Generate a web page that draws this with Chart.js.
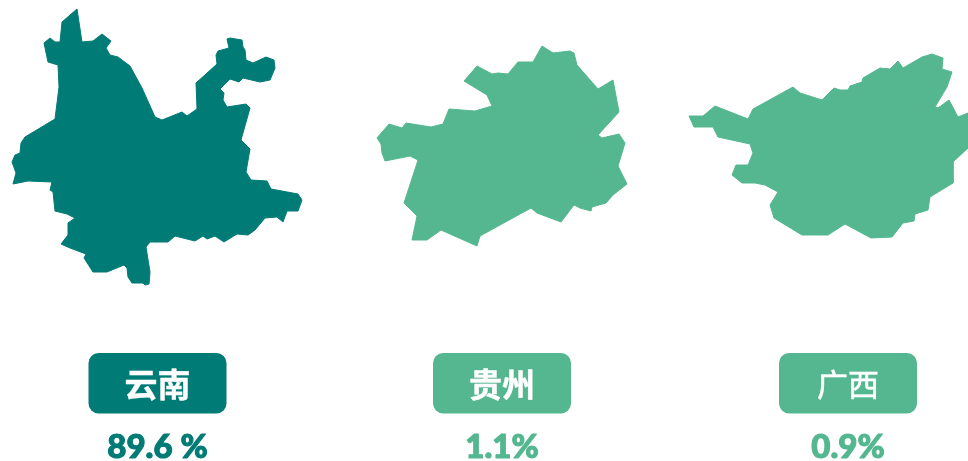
<!DOCTYPE html>
<html><head><meta charset="utf-8">
<style>html,body{margin:0;padding:0;background:#fff}#w{width:968px;height:461px}canvas{display:block}</style>
<script src="https://cdn.jsdelivr.net/npm/chart.js@4"></script></head>
<body><div id="w"><canvas id="c" width="968" height="461"></canvas></div>
<script>
const provinces = ['云南', '贵州', '广西'];
const shareLabels = ['89.6 %', '1.1%', '0.9%'];
const labelCentersX = [157.5, 502, 848];
const colorDark = '#007B75', colorLight = '#54B78F';
const provinceColors = [colorDark, colorLight, colorLight];
const provinceFonts = ['700 33px "Noto Sans CJK SC"', '700 33px "Noto Sans CJK SC"', '400 31px "Noto Sans CJK SC"'];
const provinceStrokes = [0.4, 0.4, 0.6];
const yunnanOutline = [[77,9],[82,42],[93,41],[102,34],[111,41],[106,48],[110,55],[118,57],[130,66],[142,88],[155,117],[162,120],[182,112],[187,116],[197,109],[196,83],[217,64],[216,55],[218,51],[229,48],[227,39],[230,38],[242,40],[243,47],[245,50],[246,60],[253,63],[266,57],[274,60],[275,68],[270,80],[260,82],[243,78],[239,82],[230,79],[220,89],[224,93],[223,100],[227,107],[246,104],[250,108],[241,140],[250,149],[246,172],[251,180],[267,181],[271,189],[298,194],[302,200],[298,211],[287,211],[283,222],[277,217],[265,218],[255,230],[248,235],[237,234],[224,242],[215,236],[207,239],[203,236],[195,241],[175,236],[168,242],[150,242],[146,247],[150,272],[149,284],[145,285],[143,283],[132,283],[128,277],[127,268],[124,265],[107,272],[93,272],[84,258],[86,254],[70,248],[61,244],[68,235],[68,223],[75,218],[67,214],[55,211],[53,192],[50,190],[52,182],[28,181],[13,184],[16,173],[12,162],[15,155],[20,153],[21,143],[25,137],[55,119],[59,87],[58,65],[48,62],[44,43],[50,38],[55,42],[60,42],[62,22],[77,9]];
const guizhouOutline = [[542,46],[553,53],[570,51],[574,53],[577,65],[598,89],[613,80],[619,112],[598,135],[602,138],[619,134],[625,143],[618,166],[627,184],[613,195],[606,203],[592,207],[591,211],[580,208],[574,205],[561,222],[537,213],[531,208],[480,236],[477,246],[441,230],[427,240],[412,240],[417,216],[404,203],[418,160],[410,156],[385,161],[382,153],[381,144],[377,138],[389,124],[402,128],[406,123],[431,127],[443,124],[449,109],[475,111],[492,106],[487,95],[464,81],[477,66],[492,74],[498,73],[508,74],[518,62],[533,62],[542,46]];
const guangxiOutline = [[932,54],[943,58],[942,69],[952,72],[947,87],[935,107],[938,108],[949,100],[958,117],[968,113],[968,148],[953,162],[953,183],[930,197],[928,210],[915,214],[914,221],[903,223],[892,237],[871,238],[845,224],[828,235],[802,235],[774,218],[770,205],[778,192],[765,185],[755,183],[742,183],[732,175],[736,165],[748,165],[753,153],[750,144],[718,137],[713,127],[694,127],[689,116],[703,116],[715,106],[748,119],[753,109],[793,87],[800,93],[822,100],[834,88],[840,90],[848,90],[850,86],[862,82],[863,78],[880,68],[890,69],[898,61],[903,68],[922,57],[932,54]];
const outlines = [yunnanOutline, guizhouOutline, guangxiOutline];

const labelPlugin = {
  id: 'provinceLabels',
  afterDatasetsDraw(chart) {
    const {ctx, scales: {x, y}} = chart;
    provinces.forEach((name, i) => {
      const cx = x.getPixelForValue(labelCentersX[i]);
      const halfW = 69;
      const top = y.getPixelForValue(353), bottom = y.getPixelForValue(413.5);
      ctx.save();
      ctx.fillStyle = provinceColors[i];
      ctx.beginPath();
      ctx.roundRect(cx - halfW, top, halfW * 2, bottom - top, 10);
      ctx.fill();
      ctx.textAlign = 'center';
      ctx.textBaseline = 'middle';
      ctx.lineJoin = 'round';
      ctx.fillStyle = '#fff';
      ctx.strokeStyle = '#fff';
      ctx.lineWidth = provinceStrokes[i];
      ctx.font = provinceFonts[i];
      ctx.fillText(name, cx, y.getPixelForValue(384));
      ctx.strokeText(name, cx, y.getPixelForValue(384));
      ctx.fillStyle = provinceColors[i];
      ctx.strokeStyle = provinceColors[i];
      ctx.lineWidth = 1.1;
      ctx.font = '900 33px Lato';
      ctx.fillText(shareLabels[i], cx, y.getPixelForValue(447));
      ctx.strokeText(shareLabels[i], cx, y.getPixelForValue(447));
      ctx.restore();
    });
  }
};

new Chart(document.getElementById('c'), {
  type: 'scatter',
  data: {
    datasets: outlines.map((pts, i) => ({
      label: provinces[i],
      data: pts.map(p => ({x: p[0], y: p[1]})),
      showLine: true,
      fill: 'shape',
      tension: 0,
      borderWidth: 1,
      borderColor: provinceColors[i],
      backgroundColor: provinceColors[i],
      pointRadius: 0,
      pointHoverRadius: 0
    }))
  },
  options: {
    responsive: false,
    animation: false,
    layout: {padding: 0},
    plugins: {legend: {display: false}, tooltip: {enabled: false}},
    scales: {
      x: {type: 'linear', min: 0, max: 968, display: false},
      y: {type: 'linear', min: 0, max: 461, reverse: true, display: false}
    }
  },
  plugins: [labelPlugin]
});
</script></body></html>
